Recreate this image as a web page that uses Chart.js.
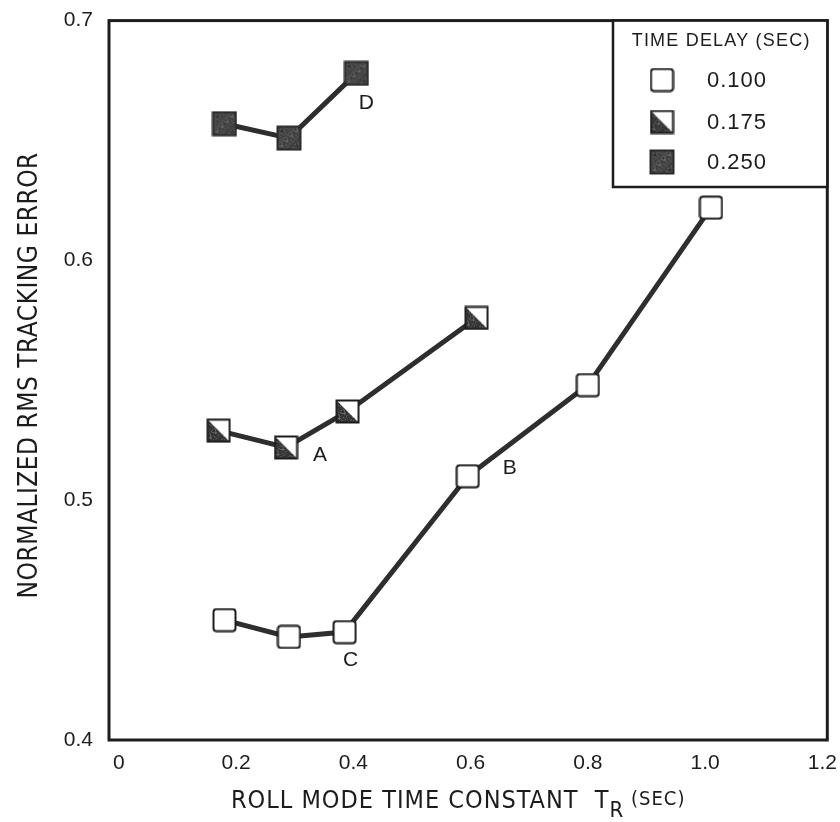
<!DOCTYPE html>
<html>
<head>
<meta charset="utf-8">
<style>
html,body{margin:0;padding:0;background:#fff;}
#wrap{width:840px;height:822px;}
</style>
<script src="https://cdn.jsdelivr.net/npm/chart.js@4.4.0/dist/chart.umd.min.js"></script>
</head>
<body>
<div id="wrap"><canvas id="c" width="840" height="822"></canvas></div>
<script>
// ---- data ----
const seriesLabels = ['0.100', '0.175', '0.250'];
const delay100X = [0.18, 0.29, 0.385, 0.595, 0.80, 1.01];
const delay100Y = [0.450, 0.443, 0.445, 0.510, 0.548, 0.622];
const delay175X = [0.17, 0.285, 0.39, 0.61];
const delay175Y = [0.529, 0.522, 0.537, 0.576];
const delay250X = [0.18, 0.29, 0.405];
const delay250Y = [0.657, 0.651, 0.678];
const xTickValues = [0, 0.2, 0.4, 0.6, 0.8, 1.0, 1.2];
const yTickValues = [0.4, 0.5, 0.6, 0.7];
const legendTitle = 'TIME DELAY (SEC)';
const yTitle = 'NORMALIZED RMS TRACKING ERROR';
const xTitleMain = 'ROLL MODE TIME CONSTANT  T';
const xTitleSub = 'R';
const xTitleTail = ' (SEC)';
const pointLabels = [
  {text: 'A', series: 1, index: 1},
  {text: 'B', series: 0, index: 3},
  {text: 'C', series: 0, index: 2},
  {text: 'D', series: 2, index: 2}
];

const FONT = '"Liberation Sans", Arial, Helvetica, sans-serif';
const NARROW = '"Liberation Sans Narrow", "Arial Narrow", "DejaVu Sans Condensed", sans-serif';
const INK = '#1c1c1c';

function toPoints(xs, ys) { return xs.map((x, i) => ({x: x, y: ys[i]})); }

// ---- marker images ----
function speckle(g, x0, y0, w, h, base) {
  g.fillStyle = base;
  g.fillRect(x0, y0, w, h);
  for (let yy = 0; yy < h; yy++) {
    for (let xx = 0; xx < w; xx++) {
      const k = (xx * 7 + yy * 13 + (xx * yy) % 5) % 6;
      if (k === 0) { g.fillStyle = 'rgba(255,255,255,0.22)'; g.fillRect(x0 + xx, y0 + yy, 1, 1); }
      else if (k === 3) { g.fillStyle = 'rgba(0,0,0,0.35)'; g.fillRect(x0 + xx, y0 + yy, 1, 1); }
    }
  }
}
function makeMarker(kind, s) {
  const c = document.createElement('canvas');
  c.width = s; c.height = s;
  const g = c.getContext('2d');
  const p = 1.5;
  g.lineWidth = 2;
  g.strokeStyle = INK;
  if (kind === 'open') {
    g.fillStyle = '#fff';
    g.beginPath(); g.roundRect(p, p, s - 2 * p, s - 2 * p, 3); g.fill(); g.stroke();
  } else if (kind === 'half') {
    g.fillStyle = '#fff';
    g.fillRect(p, p, s - 2 * p, s - 2 * p);
    g.save();
    g.beginPath(); g.moveTo(p, p); g.lineTo(s - p, s - p); g.lineTo(p, s - p); g.closePath(); g.clip();
    speckle(g, 0, 0, s, s, '#3a3a3a');
    g.restore();
    g.strokeRect(p, p, s - 2 * p, s - 2 * p);
  } else {
    speckle(g, p, p, s - 2 * p, s - 2 * p, '#454545');
    g.strokeStyle = '#2a2a2a';
    g.strokeRect(p, p, s - 2 * p, s - 2 * p);
  }
  return c;
}
const markerOpen = makeMarker('open', 25);
const markerHalf = makeMarker('half', 25);
const markerSolid = makeMarker('solid', 26);

const lineStyle = {showLine: true, borderColor: '#2e2e2e', borderWidth: 5, tension: 0};

const datasets = [
  Object.assign({label: seriesLabels[0], data: toPoints(delay100X, delay100Y), pointStyle: markerOpen}, lineStyle),
  Object.assign({label: seriesLabels[1], data: toPoints(delay175X, delay175Y), pointStyle: markerHalf}, lineStyle),
  Object.assign({label: seriesLabels[2], data: toPoints(delay250X, delay250Y), pointStyle: markerSolid}, lineStyle)
];

// ---- custom drawing: frame, titles, legend, point letters ----
const decor = {
  id: 'decor',
  beforeDatasetsDraw(chart) {
    const {ctx, chartArea: a} = chart;
    ctx.save();
    ctx.strokeStyle = INK;
    ctx.lineWidth = 3;
    ctx.strokeRect(a.left, a.top, a.right - a.left, a.bottom - a.top);
    ctx.restore();
  },
  afterDraw(chart) {
    const {ctx, chartArea: a} = chart;
    ctx.save();
    ctx.fillStyle = INK;
    // y title
    ctx.save();
    ctx.translate(30, (a.top + a.bottom) / 2 - 5);
    ctx.rotate(-Math.PI / 2);
    ctx.font = '26px ' + NARROW;
    ctx.textAlign = 'center';
    ctx.textBaseline = 'middle';
    ctx.letterSpacing = '0.5px';
    ctx.fillText(yTitle, 0, 0);
    ctx.letterSpacing = '0px';
    ctx.restore();
    // x title with subscript
    ctx.letterSpacing = '1px';
    ctx.font = '25px ' + NARROW;
    ctx.textBaseline = 'alphabetic';
    const w1 = ctx.measureText(xTitleMain).width;
    ctx.font = '22px ' + NARROW;
    const w2 = ctx.measureText(xTitleSub).width;
    ctx.font = '20px ' + NARROW;
    const w3 = ctx.measureText(xTitleTail).width;
    let x = (a.left + a.right) / 2 - 10 - (w1 + w2 + w3) / 2;
    const base = 808;
    ctx.textAlign = 'left';
    ctx.font = '25px ' + NARROW;
    ctx.fillText(xTitleMain, x, base); x += w1;
    ctx.font = '22px ' + NARROW;
    ctx.fillText(xTitleSub, x, base + 9); x += w2;
    ctx.font = '20px ' + NARROW;
    ctx.fillText(xTitleTail, x, base - 3);
    ctx.letterSpacing = '0px';
    // legend
    const lx = 613, ly = a.top, lw = a.right - lx, lh = 187 - a.top;
    ctx.fillStyle = '#fff';
    ctx.fillRect(lx, ly, lw, lh);
    ctx.strokeStyle = INK;
    ctx.lineWidth = 2.5;
    ctx.strokeRect(lx, ly, lw, lh);
    ctx.fillStyle = INK;
    ctx.font = '18px ' + FONT;
    ctx.textAlign = 'center';
    ctx.textBaseline = 'middle';
    ctx.letterSpacing = '1.2px';
    ctx.fillText(legendTitle, lx + lw / 2 + 1, 41);
    ctx.letterSpacing = '0px';
    const rowY = [80, 122, 162];
    chart.data.datasets.forEach((ds, i) => {
      const img = ds.pointStyle;
      ctx.drawImage(img, 662 - img.width / 2, rowY[i] - img.height / 2);
      ctx.font = '22px ' + FONT;
      ctx.textAlign = 'left';
      ctx.letterSpacing = '1px';
      ctx.fillText(ds.label, 707, rowY[i] + 1);
      ctx.letterSpacing = '0px';
    });
    // letters next to points
    const offs = {A: [34, 8], B: [42, -8], C: [6, 28], D: [10, 30]};
    ctx.font = '21px ' + FONT;
    ctx.textAlign = 'center';
    ctx.textBaseline = 'middle';
    pointLabels.forEach(pl => {
      const el = chart.getDatasetMeta(pl.series).data[pl.index];
      const o = offs[pl.text];
      ctx.fillText(pl.text, el.x + o[0], el.y + o[1]);
    });
    ctx.restore();
  }
};

new Chart(document.getElementById('c').getContext('2d'), {
  type: 'scatter',
  data: {datasets: datasets},
  options: {
    responsive: false,
    animation: false,
    events: [],
    layout: {padding: {top: 19, right: 12, left: 0, bottom: 0}},
    plugins: {legend: {display: false}, tooltip: {enabled: false}},
    scales: {
      x: {
        type: 'linear',
        min: -0.017,
        max: 1.2085,
        grid: {display: false},
        border: {display: false},
        afterBuildTicks: s => { s.ticks = xTickValues.map(v => ({value: v})); },
        afterFit: s => { s.height = 822 - 740; },
        ticks: {
          color: INK,
          padding: 3,
          maxRotation: 0,
          autoSkip: false,
          font: {family: FONT, size: 21},
          callback: v => (v === 0 ? '0' : v.toFixed(1))
        }
      },
      y: {
        type: 'linear',
        min: 0.4,
        max: 0.7,
        grid: {display: false},
        border: {display: false},
        afterBuildTicks: s => { s.ticks = yTickValues.map(v => ({value: v})); },
        afterFit: s => { s.width = 109; },
        ticks: {
          color: INK,
          padding: 8,
          autoSkip: false,
          font: {family: FONT, size: 21},
          callback: v => v.toFixed(1)
        }
      }
    }
  },
  plugins: [decor]
});
</script>
</body>
</html>
